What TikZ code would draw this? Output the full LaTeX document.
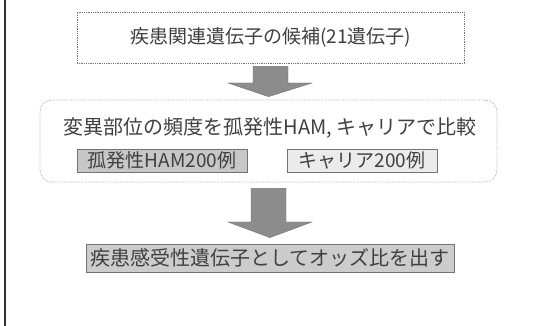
\documentclass[tikz,border=0pt]{standalone}
\usepackage{fontspec}
\setmainfont{Noto Sans CJK JP}
\begin{document}
\begin{tikzpicture}[x=1pt,y=1pt,
  txt/.style={text=black!75, font=\fontsize{19}{22}\selectfont},
  box/.style={draw=black!55, line width=0.8pt, inner sep=0pt, minimum height=#1},
  fatarrow/.style={fill=black!45, draw=black!55, line width=0.4pt}]
\useasboundingbox (0,0) rectangle (540,326);
\fill[white] (0,0) rectangle (540,326);
\draw[line width=1.5pt, black!80] (5,0) -- (5,326);
% box 1
\node[box=51pt, minimum width=387pt, densely dotted, txt] (b1) at (270.5,288.5) {疾患関連遺伝子の候補(21遺伝子)};
% box 2
\node[draw=black!35, densely dotted, rounded corners=12pt, minimum width=457pt, minimum height=82pt, line width=0.7pt] (b2) at (268.5,185) {};
\node[txt, font=\fontsize{20}{24}\selectfont] (t2) at (270,198) {変異部位の頻度を孤発性HAM, キャリアで比較};
\node[box=23pt, minimum width=170pt, fill=black!22, txt] (ba) at (162,165.5) {孤発性HAM200例};
\node[box=23pt, minimum width=150pt, fill=black!8, txt] (bb) at (362,165.5) {キャリア200例};
% box 3
\node[box=28pt, minimum width=368pt, fill=black!20, txt, font=\fontsize{20}{24}\selectfont] (b3) at (270,68) {疾患感受性遺伝子としてオッズ比を出す};
% arrows
\coordinate (a1top) at ([yshift=-3pt]b1.south);
\coordinate (a1tip) at ([yshift=3pt]b2.north);
\draw[fatarrow] ([xshift=-17.5pt]a1top) -- ([xshift=17.5pt]a1top) -- ([xshift=17.5pt]a1top |- 0,243) -- (312,243) -- (a1tip) -- (228,243) -- ([xshift=-17.5pt]a1top |- 0,243) -- cycle;
\coordinate (a2top) at ([yshift=-6pt]b2.south);
\coordinate (a2tip) at ([yshift=6pt]b3.north);
\draw[fatarrow] ([xshift=-17.5pt]a2top) -- ([xshift=17.5pt]a2top) -- ([xshift=17.5pt]a2top |- 0,104) -- (312,104) -- (a2tip) -- (228,104) -- ([xshift=-17.5pt]a2top |- 0,104) -- cycle;
\end{tikzpicture}
\end{document}
